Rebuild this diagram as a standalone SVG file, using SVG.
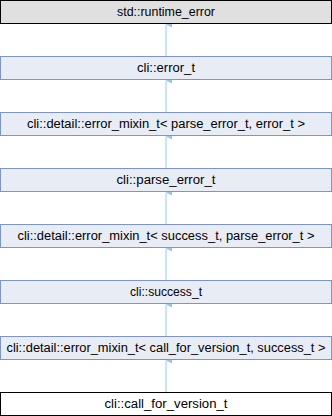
<svg xmlns="http://www.w3.org/2000/svg" width="332" height="416" viewBox="0 0 332 416">
<style>
.box{stroke-width:1}
.ext{fill:#e0e0e0;stroke:#000}
.cls{fill:#e8ecf5;stroke:#7b94cb}
.cur{fill:#fff;stroke:#000}
text{font-family:"Liberation Sans",Arial,sans-serif;font-size:12px;fill:#000;text-anchor:middle}
.edge{stroke:#94c9ec;stroke-width:1;fill:none}
</style>
<defs>
<marker id="ah" markerWidth="6" markerHeight="7" refX="3" refY="0" orient="auto" markerUnits="userSpaceOnUse" viewBox="0 0 6 7">
<path d="M3,0 L6,6 L0,6 Z" fill="#94c9ec"/>
</marker>
</defs>
<g id="connectors">
<line class="edge" x1="166" y1="56" x2="166" y2="24.5" marker-end="url(#ah)"/>
<line class="edge" x1="166" y1="112" x2="166" y2="80.5" marker-end="url(#ah)"/>
<line class="edge" x1="166" y1="168" x2="166" y2="136.5" marker-end="url(#ah)"/>
<line class="edge" x1="166" y1="224" x2="166" y2="192.5" marker-end="url(#ah)"/>
<line class="edge" x1="166" y1="280" x2="166" y2="248.5" marker-end="url(#ah)"/>
<line class="edge" x1="166" y1="336" x2="166" y2="304.5" marker-end="url(#ah)"/>
<line class="edge" x1="166" y1="392" x2="166" y2="360.5" marker-end="url(#ah)"/>
</g>
<g id="n1"><rect class="box ext" x="0.5" y="0.5" width="331" height="23"/><text x="166" y="16" textLength="98" lengthAdjust="spacingAndGlyphs">std::runtime_error</text></g>
<g id="n2"><rect class="box cls" x="0.5" y="56.5" width="331" height="23"/><text x="166" y="72" textLength="58" lengthAdjust="spacingAndGlyphs">cli::error_t</text></g>
<g id="n3"><rect class="box cls" x="0.5" y="112.5" width="331" height="23"/><text x="166" y="128" textLength="278" lengthAdjust="spacingAndGlyphs">cli::detail::error_mixin_t&lt; parse_error_t, error_t &gt;</text></g>
<g id="n4"><rect class="box cls" x="0.5" y="168.5" width="331" height="23"/><text x="166" y="184" textLength="99" lengthAdjust="spacingAndGlyphs">cli::parse_error_t</text></g>
<g id="n5"><rect class="box cls" x="0.5" y="224.5" width="331" height="23"/><text x="166" y="240" textLength="297" lengthAdjust="spacingAndGlyphs">cli::detail::error_mixin_t&lt; success_t, parse_error_t &gt;</text></g>
<g id="n6"><rect class="box cls" x="0.5" y="280.5" width="331" height="23"/><text x="166" y="296" textLength="72" lengthAdjust="spacingAndGlyphs">cli::success_t</text></g>
<g id="n7"><rect class="box cls" x="0.5" y="336.5" width="331" height="23"/><text x="166" y="352" textLength="319" lengthAdjust="spacingAndGlyphs">cli::detail::error_mixin_t&lt; call_for_version_t, success_t &gt;</text></g>
<g id="n8"><rect class="box cur" x="0.5" y="392.5" width="331" height="23"/><text x="166" y="408" textLength="123" lengthAdjust="spacingAndGlyphs">cli::call_for_version_t</text></g>
</svg>
